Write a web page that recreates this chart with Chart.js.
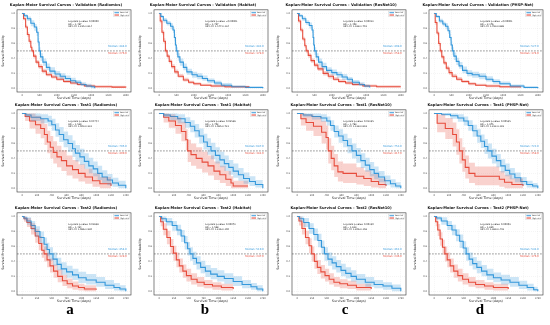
<!DOCTYPE html>
<html>
<head>
<meta charset="utf-8">
<script src="https://cdn.jsdelivr.net/npm/chart.js@4.4.0/dist/chart.umd.min.js"></script>
<style>
  html, body { margin: 0; padding: 0; background: #fff; }
  #wrap { position: relative; width: 550px; height: 325px; overflow: hidden; }
  #wrap canvas { position: absolute; }
  .lbl { position: absolute; top: 301px; width: 30px; text-align: center;
         font: bold 15px "Liberation Serif", "DejaVu Serif", serif; color: #000; }
</style>
</head>
<body>
<div id="wrap"></div>
<script>
// ---- tick labels ----
const validationTicks = [0, 500, 1000, 1500, 2000, 2500, 3000];
const test1Ticks = [0, 200, 400, 600, 800, 1000, 1200, 1400];
const test2Ticks = [0, 250, 500, 750, 1000, 1250, 1500, 1750];
const survivalTicks = [0, 0.2, 0.4, 0.6, 0.8, 1.0];
const cohortNames = ['Validation', 'Test1', 'Test2'];
const modelNames = ['Radiomics', 'Habitat', 'ResNet10', 'PHSP-Net'];
const panelLetters = ['a', 'b', 'c', 'd'];

// ---- KM curves: [time, survival, CI lower, CI upper] ----
const valRadiomicsLow = [[0,1,1,1],[60,0.97,0.95,0.99],[150,0.93,0.9,0.96],[250,0.87,0.83,0.91],[350,0.82,0.77,0.86],[420,0.75,0.7,0.8],[460,0.62,0.57,0.67],[490,0.5,0.45,0.55],[530,0.42,0.37,0.47],[600,0.35,0.3,0.4],[700,0.28,0.24,0.33],[800,0.23,0.19,0.28],[950,0.19,0.15,0.23],[1100,0.16,0.12,0.2],[1250,0.13,0.1,0.17],[1400,0.1,0.07,0.14],[1550,0.08,0.05,0.11],[1700,0.05,0.03,0.08],[1850,0.03,0.01,0.06],[2000,0.02,0,0.04],[2100,0,0,0.02]];
const valRadiomicsHigh = [[0,1,1,1],[40,0.93,0.91,0.95],[100,0.82,0.79,0.85],[150,0.72,0.69,0.75],[200,0.63,0.6,0.66],[250,0.55,0.52,0.58],[280,0.5,0.47,0.53],[330,0.43,0.4,0.46],[400,0.35,0.32,0.38],[480,0.29,0.26,0.32],[580,0.23,0.2,0.26],[700,0.18,0.16,0.21],[850,0.15,0.13,0.18],[1000,0.12,0.1,0.15],[1200,0.09,0.07,0.11],[1400,0.07,0.05,0.09],[1600,0.05,0.035,0.07],[1800,0.03,0.02,0.05],[2100,0.02,0.01,0.04],[2600,0.015,0.005,0.035],[3000,0.01,0,0.03]];
const valHabitatLow = [[0,1,1,1],[50,0.96,0.94,0.98],[120,0.91,0.88,0.94],[220,0.87,0.84,0.9],[330,0.83,0.79,0.87],[400,0.78,0.74,0.82],[440,0.68,0.63,0.73],[470,0.58,0.53,0.63],[495,0.5,0.45,0.55],[540,0.42,0.37,0.47],[600,0.35,0.3,0.4],[700,0.28,0.24,0.33],[800,0.22,0.18,0.26],[950,0.18,0.14,0.22],[1100,0.16,0.12,0.2],[1250,0.13,0.1,0.17],[1400,0.1,0.07,0.13],[1600,0.07,0.04,0.1],[1800,0.04,0.02,0.07],[2100,0.02,0.01,0.04],[2500,0.01,0,0.03],[3000,0,0,0.02]];
const valHabitatHigh = [[0,1,1,1],[30,0.9,0.87,0.93],[80,0.75,0.72,0.78],[130,0.63,0.6,0.67],[180,0.5,0.47,0.53],[230,0.43,0.4,0.46],[290,0.36,0.33,0.39],[360,0.29,0.26,0.32],[450,0.22,0.19,0.25],[550,0.16,0.14,0.19],[700,0.11,0.09,0.14],[850,0.08,0.06,0.1],[1000,0.06,0.04,0.08],[1200,0.04,0.03,0.06],[1500,0.03,0.015,0.05],[1900,0.02,0.005,0.035],[2600,0.01,0,0.03]];
const valResNetLow = [[0,1,1,1],[60,0.97,0.95,0.99],[150,0.93,0.9,0.96],[250,0.88,0.85,0.91],[350,0.84,0.8,0.88],[430,0.78,0.74,0.82],[460,0.68,0.63,0.73],[480,0.58,0.53,0.63],[500,0.5,0.45,0.55],[550,0.42,0.37,0.47],[620,0.35,0.3,0.4],[720,0.29,0.25,0.34],[850,0.24,0.2,0.28],[1000,0.21,0.17,0.25],[1150,0.18,0.14,0.22],[1300,0.15,0.11,0.19],[1450,0.12,0.08,0.15],[1600,0.08,0.05,0.11],[1800,0.05,0.03,0.08],[1950,0.03,0.01,0.05],[2100,0.01,0,0.03]];
const valResNetHigh = [[0,1,1,1],[40,0.9,0.87,0.93],[100,0.78,0.75,0.81],[160,0.66,0.63,0.69],[220,0.57,0.54,0.6],[260,0.5,0.47,0.53],[320,0.44,0.41,0.47],[400,0.37,0.34,0.4],[500,0.31,0.28,0.34],[600,0.26,0.23,0.29],[750,0.2,0.17,0.23],[900,0.16,0.13,0.19],[1050,0.12,0.1,0.15],[1200,0.09,0.07,0.12],[1400,0.07,0.05,0.09],[1600,0.05,0.03,0.07],[1900,0.03,0.02,0.05],[2300,0.02,0.01,0.04],[3000,0.02,0.01,0.04]];
const valPhspLow = [[0,1,1,1],[60,0.96,0.94,0.98],[150,0.9,0.87,0.93],[250,0.86,0.83,0.89],[330,0.83,0.79,0.87],[400,0.77,0.73,0.81],[450,0.68,0.64,0.73],[490,0.58,0.53,0.63],[525,0.5,0.45,0.55],[570,0.43,0.38,0.48],[640,0.36,0.31,0.41],[720,0.3,0.26,0.35],[820,0.24,0.2,0.29],[950,0.2,0.16,0.24],[1100,0.18,0.14,0.22],[1300,0.16,0.12,0.2],[1500,0.12,0.09,0.16],[1700,0.09,0.06,0.12],[1900,0.06,0.04,0.09],[2200,0.03,0.01,0.05],[2600,0.01,0,0.03],[3000,0,0,0.02]];
const valPhspHigh = [[0,1,1,1],[30,0.88,0.85,0.91],[80,0.74,0.71,0.77],[130,0.6,0.57,0.63],[175,0.5,0.47,0.53],[220,0.42,0.39,0.45],[280,0.34,0.31,0.37],[350,0.27,0.24,0.3],[430,0.21,0.18,0.24],[520,0.16,0.14,0.19],[650,0.12,0.1,0.15],[800,0.09,0.07,0.11],[1000,0.06,0.04,0.08],[1200,0.04,0.03,0.06],[1500,0.03,0.015,0.05],[1900,0.02,0.005,0.035],[2500,0.01,0,0.025]];

const t1RadiomicsLow = [[0,1,1,1],[50,0.98,0.95,1],[120,0.95,0.9,1],[250,0.93,0.87,0.99],[350,0.9,0.83,0.97],[400,0.85,0.77,0.93],[450,0.78,0.69,0.87],[500,0.72,0.62,0.82],[560,0.65,0.55,0.76],[620,0.6,0.49,0.71],[680,0.53,0.42,0.64],[720,0.47,0.36,0.58],[780,0.42,0.31,0.53],[840,0.36,0.26,0.47],[900,0.3,0.2,0.41],[960,0.26,0.16,0.36],[1020,0.2,0.11,0.3],[1080,0.15,0.07,0.24],[1150,0.11,0.04,0.19],[1220,0.07,0.02,0.14],[1300,0.04,0,0.1],[1400,0,0,0.05]];
const t1RadiomicsHigh = [[0,1,1,1],[40,0.96,0.9,1],[100,0.9,0.8,1],[180,0.85,0.73,0.97],[250,0.8,0.67,0.93],[300,0.72,0.58,0.86],[340,0.62,0.47,0.77],[380,0.55,0.4,0.7],[420,0.48,0.33,0.63],[470,0.42,0.28,0.57],[530,0.37,0.23,0.51],[600,0.3,0.17,0.44],[680,0.25,0.13,0.38],[760,0.2,0.09,0.32],[850,0.15,0.06,0.26],[950,0.1,0.02,0.2],[1050,0.06,0,0.15],[1200,0.03,0,0.1]];
const t1HabitatLow = [[0,1,1,1],[60,0.98,0.95,1],[150,0.96,0.91,1],[250,0.93,0.87,0.99],[350,0.88,0.81,0.95],[420,0.83,0.75,0.91],[480,0.77,0.68,0.86],[540,0.7,0.6,0.8],[600,0.62,0.52,0.73],[650,0.56,0.45,0.67],[700,0.5,0.39,0.61],[760,0.44,0.33,0.55],[820,0.38,0.28,0.49],[880,0.33,0.23,0.44],[940,0.28,0.18,0.38],[1000,0.23,0.14,0.33],[1070,0.18,0.1,0.27],[1140,0.13,0.06,0.21],[1220,0.09,0.03,0.16],[1300,0.05,0.01,0.11],[1400,0,0,0.05]];
const t1HabitatHigh = [[0,1,1,1],[60,0.95,0.88,1],[130,0.9,0.81,0.99],[220,0.84,0.73,0.95],[300,0.76,0.63,0.89],[360,0.65,0.51,0.79],[385,0.5,0.35,0.65],[430,0.45,0.3,0.6],[500,0.4,0.26,0.55],[580,0.35,0.21,0.49],[660,0.3,0.17,0.44],[740,0.23,0.11,0.36],[820,0.18,0.07,0.3],[900,0.12,0.03,0.23],[970,0.07,0,0.16],[1000,0.03,0,0.1],[1200,0.03,0,0.1]];
const t1ResNetLow = [[0,1,1,1],[80,0.98,0.95,1],[200,0.96,0.92,1],[320,0.94,0.89,0.99],[400,0.9,0.84,0.96],[450,0.84,0.77,0.91],[500,0.76,0.68,0.84],[560,0.7,0.61,0.79],[620,0.64,0.55,0.73],[680,0.57,0.47,0.67],[740,0.5,0.4,0.6],[800,0.44,0.34,0.54],[860,0.37,0.27,0.47],[920,0.31,0.22,0.41],[980,0.25,0.16,0.35],[1040,0.2,0.12,0.29],[1100,0.15,0.08,0.23],[1180,0.1,0.04,0.17],[1260,0.06,0.01,0.12],[1330,0.03,0,0.08],[1400,0,0,0.04]];
const t1ResNetHigh = [[0,1,1,1],[50,0.93,0.84,1],[120,0.88,0.77,0.99],[220,0.83,0.7,0.96],[330,0.75,0.6,0.9],[390,0.68,0.52,0.84],[420,0.5,0.33,0.67],[460,0.4,0.24,0.57],[500,0.3,0.15,0.46],[550,0.22,0.09,0.36],[620,0.2,0.07,0.33],[800,0.16,0.05,0.28],[900,0.13,0.03,0.24],[1000,0.09,0.01,0.19],[1100,0.05,0,0.13],[1200,0.03,0,0.1]];
const t1PhspLow = [[0,1,1,1],[100,0.99,0.97,1],[220,0.97,0.93,1],[320,0.94,0.89,0.99],[400,0.9,0.84,0.96],[460,0.84,0.77,0.91],[520,0.77,0.69,0.85],[580,0.7,0.61,0.79],[630,0.63,0.54,0.72],[680,0.56,0.46,0.66],[725,0.5,0.4,0.6],[780,0.43,0.33,0.53],[840,0.37,0.28,0.46],[900,0.3,0.21,0.39],[960,0.24,0.16,0.33],[1020,0.19,0.12,0.27],[1090,0.14,0.08,0.21],[1170,0.09,0.04,0.15],[1250,0.05,0.01,0.1],[1330,0.03,0,0.07],[1400,0,0,0.04]];
const t1PhspHigh = [[0,1,1,1],[40,0.87,0.75,0.99],[150,0.8,0.66,0.94],[250,0.72,0.56,0.88],[300,0.62,0.45,0.79],[340,0.5,0.33,0.67],[380,0.38,0.22,0.55],[420,0.28,0.13,0.44],[470,0.2,0.07,0.34],[550,0.16,0.04,0.29],[800,0.16,0.04,0.29],[880,0.12,0.02,0.23],[950,0.08,0,0.18],[1050,0.05,0,0.13],[1200,0.03,0,0.1]];

const t2RadiomicsLow = [[0,1,1,1],[30,0.98,0.95,1],[80,0.94,0.89,0.99],[150,0.88,0.82,0.94],[220,0.8,0.73,0.87],[300,0.72,0.64,0.8],[370,0.63,0.55,0.72],[420,0.56,0.47,0.65],[460,0.5,0.41,0.59],[520,0.43,0.34,0.52],[590,0.36,0.28,0.45],[660,0.3,0.22,0.39],[750,0.26,0.18,0.34],[850,0.22,0.15,0.3],[950,0.18,0.11,0.26],[1080,0.15,0.09,0.23],[1250,0.12,0.06,0.19],[1400,0.08,0.03,0.15],[1550,0.05,0.01,0.11],[1650,0.03,0,0.08],[1750,0,0,0.05]];
const t2RadiomicsHigh = [[0,1,1,1],[30,0.97,0.93,1],[80,0.92,0.86,0.98],[150,0.84,0.76,0.91],[220,0.74,0.65,0.83],[280,0.64,0.55,0.74],[330,0.55,0.45,0.65],[370,0.5,0.4,0.6],[420,0.42,0.32,0.52],[470,0.34,0.25,0.44],[530,0.27,0.18,0.36],[600,0.2,0.12,0.29],[680,0.14,0.07,0.22],[760,0.1,0.04,0.17],[850,0.07,0.02,0.13],[950,0.05,0.01,0.1],[1050,0.03,0,0.08],[1250,0.02,0,0.06]];
const t2HabitatLow = [[0,1,1,1],[40,0.97,0.93,1],[120,0.93,0.88,0.98],[220,0.88,0.81,0.94],[300,0.82,0.75,0.89],[370,0.74,0.66,0.82],[430,0.65,0.56,0.74],[480,0.57,0.48,0.66],[520,0.5,0.41,0.59],[570,0.44,0.35,0.53],[630,0.38,0.29,0.47],[700,0.32,0.24,0.41],[780,0.27,0.19,0.35],[870,0.23,0.16,0.31],[980,0.2,0.13,0.28],[1100,0.17,0.1,0.24],[1250,0.13,0.07,0.2],[1400,0.09,0.04,0.15],[1550,0.06,0.02,0.11],[1650,0.03,0,0.08],[1750,0,0,0.05]];
const t2HabitatHigh = [[0,1,1,1],[25,0.93,0.87,0.99],[70,0.83,0.75,0.91],[130,0.72,0.63,0.81],[190,0.6,0.5,0.7],[240,0.51,0.41,0.61],[290,0.42,0.32,0.52],[340,0.34,0.25,0.44],[400,0.27,0.18,0.36],[460,0.21,0.13,0.3],[540,0.16,0.09,0.24],[640,0.12,0.06,0.19],[760,0.09,0.04,0.15],[900,0.07,0.02,0.12],[1050,0.05,0.01,0.1],[1250,0.03,0,0.08]];
const t2ResNetLow = [[0,1,1,1],[40,0.97,0.93,1],[110,0.92,0.86,0.98],[200,0.84,0.77,0.91],[280,0.76,0.68,0.84],[350,0.68,0.59,0.77],[410,0.59,0.5,0.68],[460,0.5,0.41,0.59],[520,0.43,0.34,0.52],[590,0.38,0.29,0.47],[660,0.33,0.25,0.42],[740,0.28,0.2,0.37],[820,0.24,0.17,0.32],[910,0.2,0.13,0.28],[1000,0.16,0.1,0.23],[1150,0.12,0.06,0.19],[1300,0.09,0.04,0.15],[1450,0.07,0.02,0.12],[1600,0.04,0,0.09],[1750,0,0,0.05]];
const t2ResNetHigh = [[0,1,1,1],[30,0.94,0.88,1],[80,0.84,0.76,0.92],[140,0.72,0.63,0.81],[200,0.61,0.51,0.71],[245,0.5,0.4,0.6],[290,0.4,0.3,0.5],[340,0.32,0.23,0.42],[400,0.26,0.17,0.35],[470,0.21,0.13,0.3],[540,0.16,0.09,0.24],[620,0.12,0.06,0.19],[720,0.1,0.04,0.16],[850,0.08,0.03,0.14],[1000,0.05,0.01,0.1],[1250,0.03,0,0.08]];
const t2PhspLow = [[0,1,1,1],[40,0.98,0.95,1],[120,0.94,0.89,0.99],[220,0.88,0.82,0.94],[300,0.82,0.75,0.89],[370,0.75,0.67,0.83],[430,0.67,0.58,0.76],[490,0.58,0.49,0.67],[540,0.5,0.41,0.59],[590,0.43,0.34,0.52],[650,0.37,0.29,0.46],[720,0.32,0.24,0.41],[800,0.27,0.2,0.35],[890,0.22,0.15,0.3],[1000,0.18,0.12,0.25],[1130,0.15,0.09,0.22],[1280,0.12,0.06,0.19],[1430,0.08,0.03,0.14],[1570,0.05,0.01,0.1],[1680,0.02,0,0.06],[1750,0,0,0.04]];
const t2PhspHigh = [[0,1,1,1],[25,0.93,0.87,0.99],[60,0.82,0.74,0.9],[100,0.7,0.61,0.79],[140,0.59,0.49,0.69],[180,0.5,0.4,0.6],[220,0.42,0.32,0.52],[270,0.34,0.25,0.44],[330,0.27,0.18,0.36],[400,0.21,0.13,0.3],[480,0.16,0.09,0.24],[580,0.12,0.06,0.19],[700,0.09,0.04,0.15],[850,0.07,0.02,0.12],[1000,0.05,0.01,0.1],[1250,0.03,0,0.08]];

// ---- annotation texts ----
const medianLow = [[484.0, 482.0, 498.0, 527.0], [705.0, 687.0, 753.0, 722.0], [454.0, 519.0, 462.0, 541.0]];
const medianHigh = [[276.0, 178.0, 258.0, 174.0], [409.0, 381.0, 417.0, 358.0], [328.0, 247.0, 246.0, 176.0]];
const pValues = [['0.00000', '<0.00001', '0.00012', '<0.00001'], ['0.04744', '0.02536', '0.01235', '0.00525'], ['0.01628', '0.00072', '0.00120', '0.00003']];
const hazardRatios = [['1.497', '1.757', '1.409', '2.176'], ['1.529', '1.702', '1.783', '1.975'], ['1.434', '1.598', '1.613', '1.830']];
const hrIntervals = [['1.235-1.814', '1.447-2.134', '1.168-1.701', '1.763-2.686'], ['1.003-2.331', '1.065-2.721', '1.128-2.818', '1.222-3.193'], ['1.066-1.930', '1.216-2.100', '1.206-2.158', '1.369-2.446']];

const curves = [
  [[valRadiomicsLow, valRadiomicsHigh], [valHabitatLow, valHabitatHigh], [valResNetLow, valResNetHigh], [valPhspLow, valPhspHigh]],
  [[t1RadiomicsLow, t1RadiomicsHigh], [t1HabitatLow, t1HabitatHigh], [t1ResNetLow, t1ResNetHigh], [t1PhspLow, t1PhspHigh]],
  [[t2RadiomicsLow, t2RadiomicsHigh], [t2HabitatLow, t2HabitatHigh], [t2ResNetLow, t2ResNetHigh], [t2PhspLow, t2PhspHigh]]
];
const rowTicks = [validationTicks, test1Ticks, test2Ticks];

// colours
const BLUE = '#3498db', RED = '#e74c3c';
const BLUE_BAND = 'rgba(52, 152, 219, 0.25)', RED_BAND = 'rgba(231, 76, 60, 0.25)';
const FONT = '"DejaVu Sans", sans-serif';

Chart.defaults.font.family = FONT;
Chart.defaults.color = '#222';

const colLeft = [0, 137, 275, 412];
const rowTop = [0, 100, 203];
const wrap = document.getElementById('wrap');

function pts(curve, k) {
  return curve.map(r => ({ x: r[0], y: r[k] }));
}

function kmDecor(r, c) {
  return {
    id: 'kmDecor',
    afterDatasetsDraw(chart) {
      const ctx = chart.ctx, a = chart.chartArea;
      ctx.save();
      ctx.setLineDash([]);
      // frame
      ctx.strokeStyle = '#333';
      ctx.lineWidth = 0.6;
      ctx.strokeRect(a.left, a.top, a.width, a.height);

      // stats block
      ctx.fillStyle = '#111';
      ctx.font = '2.3px ' + FONT;
      ctx.textAlign = 'left';
      ctx.textBaseline = 'middle';
      const sx = a.left + a.width * 0.45;
      const sy = a.top + a.height * 0.14;
      ctx.fillText('Log-rank p-value: ' + pValues[r][c], sx, sy);
      ctx.fillText('HR = ' + hazardRatios[r][c], sx, sy + 2.7);
      ctx.fillText('95% CI: ' + hrIntervals[r][c], sx, sy + 5.4);

      // medians
      ctx.font = '2.6px ' + FONT;
      ctx.fillStyle = BLUE;
      ctx.fillText('Median: ' + medianLow[r][c].toFixed(1), a.left + a.width * 0.8, a.bottom - a.height * 0.56);
      ctx.fillStyle = RED;
      ctx.fillText('Median: ' + medianHigh[r][c].toFixed(1), a.left + a.width * 0.8, a.bottom - a.height * 0.47);

      // legend box
      const lw = 16, lh = 5.6;
      const lx = a.right - lw - 1.5, ly = a.top + 1.2;
      ctx.fillStyle = 'rgba(255,255,255,0.85)';
      ctx.strokeStyle = '#ccc';
      ctx.lineWidth = 0.4;
      ctx.fillRect(lx, ly, lw, lh);
      ctx.strokeRect(lx, ly, lw, lh);
      ctx.font = '2px ' + FONT;
      const items = [['Low risk', BLUE, BLUE_BAND], ['High risk', RED, RED_BAND]];
      items.forEach((it, i) => {
        const yy = ly + 1.6 + i * 2.4;
        ctx.fillStyle = it[2];
        ctx.fillRect(lx + 1, yy - 0.9, 4.5, 1.8);
        ctx.strokeStyle = it[1];
        ctx.lineWidth = 0.8;
        ctx.beginPath();
        ctx.moveTo(lx + 1, yy);
        ctx.lineTo(lx + 5.5, yy);
        ctx.stroke();
        ctx.fillStyle = '#222';
        ctx.fillText(it[0], lx + 6.5, yy);
      });
      ctx.restore();
    }
  };
}

function makePanel(r, c) {
  const canvas = document.createElement('canvas');
  canvas.width = 137;
  canvas.height = 100;
  canvas.style.left = colLeft[c] + 'px';
  canvas.style.top = rowTop[r] + 'px';
  wrap.appendChild(canvas);

  const ticks = rowTicks[r];
  const span = ticks[ticks.length - 1];
  const xMin = -span * 0.05, xMax = span * 1.05;
  const low = curves[r][c][0], high = curves[r][c][1];

  const band = (data, color, fill) => ({
    data: data, stepped: true, borderWidth: 0, pointRadius: 0,
    backgroundColor: color, fill: fill
  });
  const line = (data, color) => ({
    data: data, stepped: true, borderColor: color, borderWidth: 1.1,
    pointRadius: 0, fill: false
  });

  new Chart(canvas, {
    type: 'line',
    data: {
      datasets: [
        band(pts(low, 3), BLUE_BAND, '+1'),
        band(pts(low, 2), BLUE_BAND, false),
        band(pts(high, 3), RED_BAND, '+1'),
        band(pts(high, 2), RED_BAND, false),
        line(pts(low, 1), BLUE),
        line(pts(high, 1), RED),
        {
          data: [{ x: xMin, y: 0.5 }, { x: xMax, y: 0.5 }],
          borderColor: 'rgba(90,90,90,0.85)', borderWidth: 0.7,
          borderDash: [1.8, 1.2], pointRadius: 0, fill: false
        }
      ]
    },
    options: {
      responsive: false,
      animation: false,
      events: [],
      layout: { padding: { left: 1, right: 6, top: 0, bottom: 0 } },
      plugins: {
        legend: { display: false },
        tooltip: { enabled: false },
        title: {
          display: true,
          text: 'Kaplan-Meier Survival Curves - ' + cohortNames[r] + ' (' + modelNames[c] + ')',
          font: { size: 3.7, weight: 'bold', family: FONT },
          color: '#111',
          padding: { top: 2.4, bottom: 3 }
        }
      },
      scales: {
        x: {
          type: 'linear', min: xMin, max: xMax,
          afterBuildTicks: axis => { axis.ticks = ticks.map(v => ({ value: v })); },
          afterFit: axis => { axis.height = 8; },
          ticks: { autoSkip: false, maxRotation: 0, font: { size: 2.3 }, padding: 0.8, color: '#333',
                   callback: v => String(v) },
          grid: { color: 'rgba(0,0,0,0.1)', lineWidth: 0.4, tickLength: 1.2 },
          border: { display: false, dash: [1, 1] },
          title: { display: true, text: 'Survival Time (days)', font: { size: 3.3 }, padding: { top: 0.8, bottom: 0 }, color: '#222' }
        },
        y: {
          type: 'linear', min: -0.05, max: 1.05,
          afterBuildTicks: axis => { axis.ticks = survivalTicks.map(v => ({ value: v })); },
          afterFit: axis => { axis.width = 16; },
          ticks: { autoSkip: false, font: { size: 2.3 }, padding: 0.8, color: '#333',
                   callback: v => v.toFixed(1) },
          grid: { color: 'rgba(0,0,0,0.1)', lineWidth: 0.4, tickLength: 1.2 },
          border: { display: false, dash: [1, 1] },
          title: { display: true, text: 'Survival Probability', font: { size: 3.3 }, padding: { top: 0, bottom: 0.5 }, color: '#222' }
        }
      }
    },
    plugins: [kmDecor(r, c)]
  });
}

for (let r = 0; r < 3; r++) {
  for (let c = 0; c < 4; c++) {
    makePanel(r, c);
  }
}

// panel letters under each column
const letterX = [70, 205, 345, 480];
panelLetters.forEach((t, i) => {
  const d = document.createElement('div');
  d.className = 'lbl';
  d.style.left = (letterX[i] - 15) + 'px';
  d.textContent = t;
  wrap.appendChild(d);
});
</script>
</body>
</html>
